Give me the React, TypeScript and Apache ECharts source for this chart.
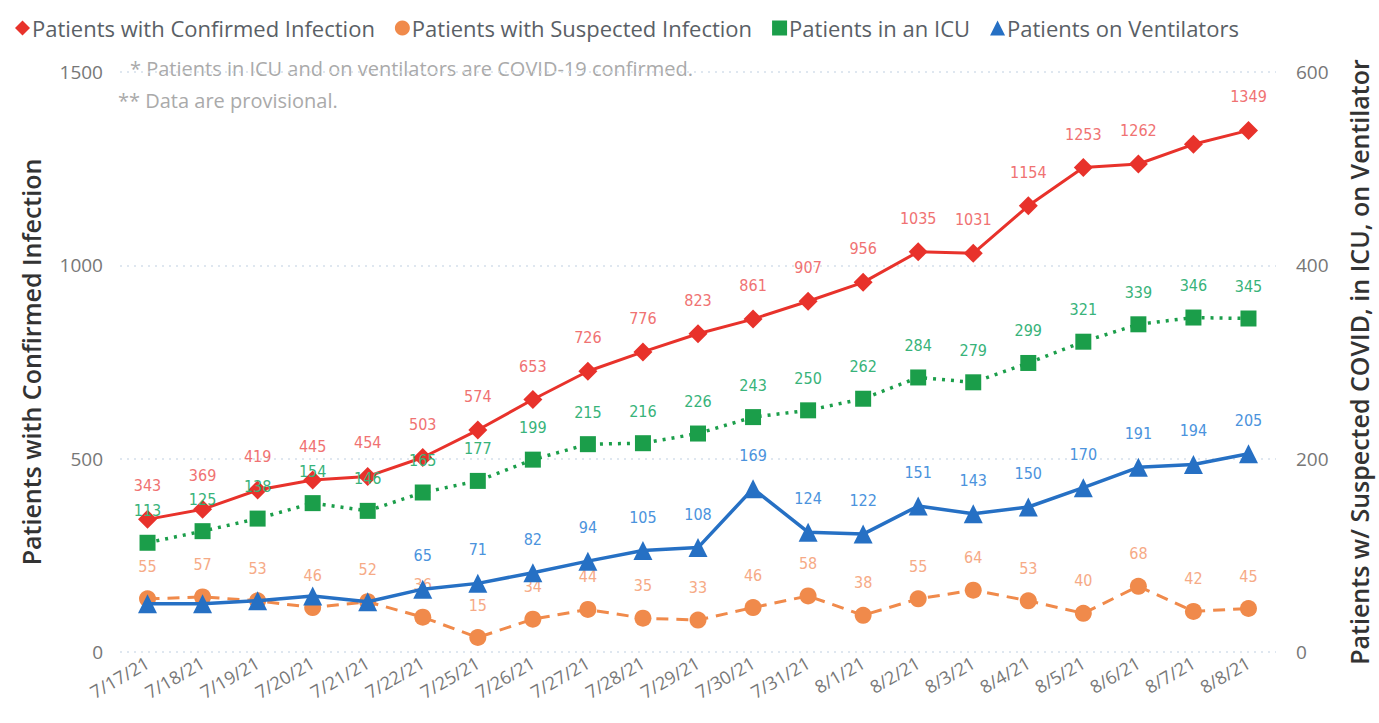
import React, { useEffect, useRef } from "react";
import * as echarts from "echarts";

const dates = ["7/17/21", "7/18/21", "7/19/21", "7/20/21", "7/21/21", "7/22/21", "7/25/21", "7/26/21", "7/27/21", "7/28/21", "7/29/21", "7/30/21", "7/31/21", "8/1/21", "8/2/21", "8/3/21", "8/4/21", "8/5/21", "8/6/21", "8/7/21", "8/8/21"];
const confirmed = [343, 369, 419, 445, 454, 503, 574, 653, 726, 776, 823, 861, 907, 956, 1035, 1031, 1154, 1253, 1262, 1313, 1349];
const suspected = [55, 57, 53, 46, 52, 36, 15, 34, 44, 35, 33, 46, 58, 38, 55, 64, 53, 40, 68, 42, 45];
const icu = [113, 125, 138, 154, 146, 165, 177, 199, 215, 216, 226, 243, 250, 262, 284, 279, 299, 321, 339, 346, 345];
const vent = [50, 50, 53, 58, 52, 65, 71, 82, 94, 105, 108, 169, 124, 122, 151, 143, 150, 170, 191, 194, 205];

const confirmedHiddenLabels = [19];
const ventHiddenLabels = [0, 1, 2, 3, 4];

const names = ["Patients with Confirmed Infection", "Patients with Suspected Infection", "Patients in an ICU", "Patients on Ventilators"];
const leftTicks = { min: 0, max: 1500, interval: 500 };
const rightTicks = { min: 0, max: 600, interval: 200 };

const notes = ["* Patients in ICU and on ventilators are COVID-19 confirmed.", "** Data are provisional."];

const LABEL_FONT = "'DejaVu Sans Condensed', 'Liberation Sans Narrow', 'DejaVu Sans', sans-serif";
const UI_FONT = "'Open Sans', 'Noto Sans', sans-serif";

function withHidden(values: number[], hidden: number[]) {
  return values.map((v, i) => (hidden.includes(i) ? { value: v, label: { show: false } } : v));
}

export default function App() {
  const ref = useRef<HTMLDivElement>(null);
  useEffect(() => {
    if (!ref.current) return;
    const chart = echarts.init(ref.current, null, { renderer: "svg" });
    const labelBase = (color: string) => ({
      show: true,
      position: "top",
      distance: 16,
      color,
      fontSize: 16,
      fontFamily: LABEL_FONT,
    });
    chart.setOption({
      animation: false,
      backgroundColor: "#ffffff",
      legend: {
        left: 10,
        top: 12,
        itemWidth: 15,
        itemHeight: 15,
        itemGap: 20,
        textStyle: { color: "#5a5f66", fontSize: 22, fontFamily: UI_FONT, padding: [0, 0, 0, -3] },
        data: [
          { name: names[0], icon: "diamond" },
          { name: names[1], icon: "circle" },
          { name: names[2], icon: "rect" },
          { name: names[3], icon: "triangle" },
        ],
      },
      graphic: [
        { type: "text", left: 130, top: 58, style: { text: notes[0], fill: "#aaa", font: `20px ${UI_FONT}` } },
        { type: "text", left: 118, top: 90, style: { text: notes[1], fill: "#aaa", font: `20px ${UI_FONT}` } },
      ],
      grid: { left: 120, right: 101, top: 72, bottom: 71, containLabel: false },
      xAxis: {
        type: "category",
        data: dates,
        boundaryGap: true,
        axisLine: { show: false },
        axisTick: { show: false },
        axisLabel: { rotate: 30, color: "#777", fontSize: 18, fontFamily: UI_FONT, margin: 9, interval: 0 },
      },
      yAxis: [
        {
          type: "value",
          ...leftTicks,
          name: names[0],
          nameLocation: "middle",
          nameRotate: 90,
          nameGap: 77,
          nameTextStyle: { color: "#333", fontSize: 25, fontWeight: 600, fontFamily: UI_FONT },
          axisLine: { show: false },
          axisTick: { show: false },
          axisLabel: { color: "#777", fontSize: 19, fontFamily: UI_FONT, margin: 17, formatter: (v: number) => String(v) },
          splitLine: { show: true, lineStyle: { color: "#d5e0eb", type: [2, 5], width: 1.5 } },
        },
        {
          type: "value",
          ...rightTicks,
          name: "Patients w/ Suspected COVID, in ICU, on Ventilator",
          nameLocation: "middle",
          nameRotate: 90,
          nameGap: 70,
          nameTextStyle: { color: "#333", fontSize: 25, fontWeight: 600, fontFamily: UI_FONT },
          axisLine: { show: false },
          axisTick: { show: false },
          axisLabel: { color: "#777", fontSize: 19, fontFamily: UI_FONT, margin: 20 },
          splitLine: { show: false },
        },
      ],
      series: [
        {
          name: names[0],
          type: "line",
          yAxisIndex: 0,
          data: withHidden(confirmed, confirmedHiddenLabels),
          symbol: "diamond",
          symbolSize: 19,
          color: "#e8322b",
          lineStyle: { width: 3, color: "#e8322b" },
          label: labelBase("#f07272"),
          z: 3,
        },
        {
          name: names[1],
          type: "line",
          yAxisIndex: 1,
          data: suspected,
          symbol: "circle",
          symbolSize: 17,
          color: "#f08a4b",
          lineStyle: { width: 3, color: "#f08a4b", type: [12, 8] },
          label: labelBase("#f6aa86"),
          z: 2,
        },
        {
          name: names[2],
          type: "line",
          yAxisIndex: 1,
          data: icu,
          symbol: "rect",
          symbolSize: 16,
          color: "#1b9e4a",
          lineStyle: { width: 3.5, color: "#1b9e4a", type: [3, 6] },
          label: labelBase("#38b37a"),
          z: 3,
        },
        {
          name: names[3],
          type: "line",
          yAxisIndex: 1,
          data: withHidden(vent, ventHiddenLabels),
          symbol: "triangle",
          symbolSize: 19,
          color: "#2670c4",
          lineStyle: { width: 3.5, color: "#2670c4" },
          label: labelBase("#4b93dd"),
          z: 4,
        },
      ],
    });
    return () => chart.dispose();
  }, []);
  return <div ref={ref} style={{ position: "fixed", left: 0, top: 0, width: 1379, height: 723 }} />;
}
